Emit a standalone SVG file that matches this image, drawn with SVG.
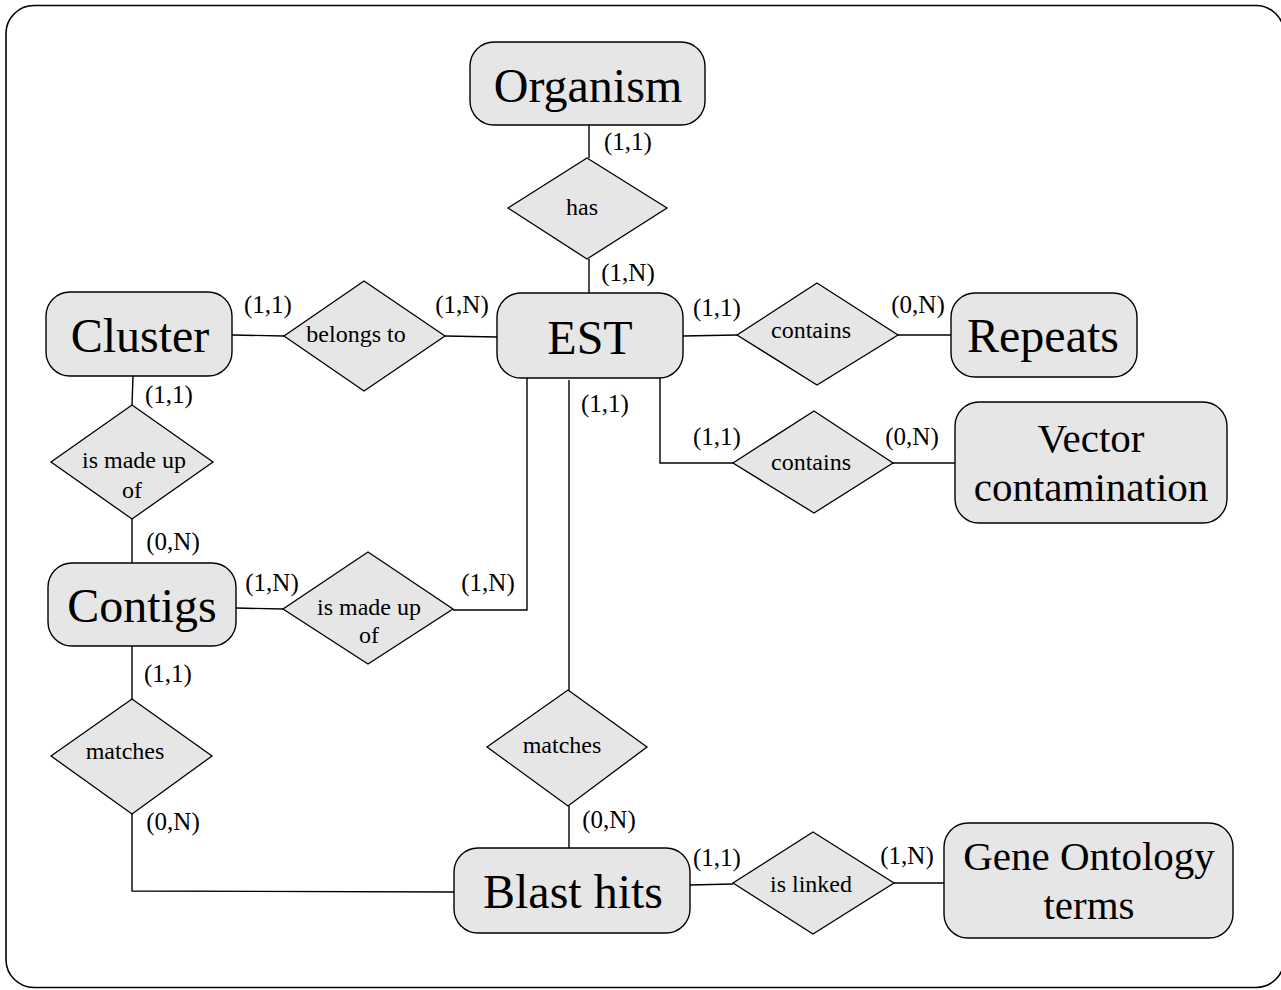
<svg xmlns="http://www.w3.org/2000/svg" width="1281" height="990" viewBox="0 0 1281 990">
<style>
.ent{fill:#e6e6e6;stroke:#000;stroke-width:1.4}
.rel{fill:#e6e6e6;stroke:#000;stroke-width:1.3}
.con{fill:none;stroke:#000;stroke-width:1.4}
.et{font-family:"Liberation Serif","Times New Roman",serif;font-size:48px;text-anchor:middle;fill:#000}
.et2{font-family:"Liberation Serif","Times New Roman",serif;font-size:41px;text-anchor:middle;fill:#000}
.rt{font-family:"Liberation Serif","Times New Roman",serif;font-size:24px;text-anchor:middle;fill:#000}
.ct{font-family:"Liberation Serif","Times New Roman",serif;font-size:25px;text-anchor:middle;fill:#000}
</style>
<rect x="6" y="5.5" width="1278" height="982" rx="28" fill="#fff" stroke="#000" stroke-width="1.6"/>
<g id="connectors">
<line class="con" x1="589" y1="125" x2="589" y2="158"/>
<line class="con" x1="589" y1="259" x2="589" y2="293"/>
<line class="con" x1="232" y1="335" x2="284" y2="336"/>
<line class="con" x1="445" y1="336" x2="497" y2="337"/>
<line class="con" x1="683" y1="336" x2="737" y2="335"/>
<line class="con" x1="898" y1="335" x2="951" y2="335"/>
<polyline class="con" points="660,378 660,463 733,463"/>
<line class="con" x1="893" y1="463" x2="955" y2="463"/>
<line class="con" x1="133" y1="376" x2="132" y2="405"/>
<line class="con" x1="132" y1="519" x2="132" y2="563"/>
<line class="con" x1="236" y1="608" x2="283" y2="609"/>
<polyline class="con" points="453,610 527,610 527,378"/>
<line class="con" x1="569" y1="380" x2="569" y2="690"/>
<line class="con" x1="569" y1="806" x2="569" y2="848"/>
<line class="con" x1="132" y1="646" x2="132" y2="699"/>
<polyline class="con" points="132,814 132,891 454,892"/>
<line class="con" x1="690" y1="885" x2="733" y2="884"/>
<line class="con" x1="894" y1="883" x2="944" y2="883"/>
</g>
<g id="organism"><rect class="ent" x="470" y="42" width="235" height="83" rx="24"/><text class="et" x="588" y="102">Organism</text></g>
<g id="cluster"><rect class="ent" x="46" y="292" width="186" height="84" rx="24"/><text class="et" x="140" y="352">Cluster</text></g>
<g id="est"><rect class="ent" x="497" y="293" width="186" height="85" rx="24"/><text class="et" x="590" y="354">EST</text></g>
<g id="repeats"><rect class="ent" x="951" y="293" width="186" height="84" rx="24"/><text class="et" x="1043" y="352">Repeats</text></g>
<g id="vector"><rect class="ent" x="955" y="402" width="272" height="121" rx="24"/><text class="et2" x="1091" y="452">Vector</text><text class="et2" x="1091" y="501">contamination</text></g>
<g id="contigs"><rect class="ent" x="48" y="563" width="188" height="83" rx="24"/><text class="et" x="142" y="622">Contigs</text></g>
<g id="blasthits"><rect class="ent" x="454" y="848" width="236" height="85" rx="24"/><text class="et" x="573" y="908">Blast hits</text></g>
<g id="geneontology"><rect class="ent" x="944" y="823" width="289" height="115" rx="24"/><text class="et2" x="1089" y="870">Gene Ontology</text><text class="et2" x="1089" y="919">terms</text></g>
<g id="has"><polygon class="rel" points="587,158 667,208 587,259 508,208"/><text class="rt" x="582" y="215">has</text></g>
<g id="belongsto"><polygon class="rel" points="364,281 445,336 364,391 284,336"/><text class="rt" x="356" y="342">belongs to</text></g>
<g id="contains1"><polygon class="rel" points="817,283 898,335 817,385 737,335"/><text class="rt" x="811" y="338">contains</text></g>
<g id="contains2"><polygon class="rel" points="814,411 893,463 814,513 733,463"/><text class="rt" x="811" y="470">contains</text></g>
<g id="madeup1"><polygon class="rel" points="132,405 213,462 132,519 51,462"/><text class="rt" x="134" y="468">is made up</text><text class="rt" x="132" y="498">of</text></g>
<g id="madeup2"><polygon class="rel" points="368,552 453,609 368,664 283,609"/><text class="rt" x="369" y="615">is made up</text><text class="rt" x="369" y="643">of</text></g>
<g id="matches1"><polygon class="rel" points="132,699 212,756 132,814 51,756"/><text class="rt" x="125" y="759">matches</text></g>
<g id="matches2"><polygon class="rel" points="568,690 647,747 568,806 487,747"/><text class="rt" x="562" y="753">matches</text></g>
<g id="islinked"><polygon class="rel" points="813,832 894,883 813,934 733,883"/><text class="rt" x="811" y="892">is linked</text></g>
<g id="cardinalities">
<text class="ct" x="628" y="150">(1,1)</text>
<text class="ct" x="628" y="281">(1,N)</text>
<text class="ct" x="268" y="313">(1,1)</text>
<text class="ct" x="462" y="313">(1,N)</text>
<text class="ct" x="717" y="316">(1,1)</text>
<text class="ct" x="918" y="313">(0,N)</text>
<text class="ct" x="717" y="445">(1,1)</text>
<text class="ct" x="912" y="445">(0,N)</text>
<text class="ct" x="605" y="412">(1,1)</text>
<text class="ct" x="169" y="403">(1,1)</text>
<text class="ct" x="173" y="550">(0,N)</text>
<text class="ct" x="272" y="591">(1,N)</text>
<text class="ct" x="488" y="591">(1,N)</text>
<text class="ct" x="168" y="682">(1,1)</text>
<text class="ct" x="173" y="830">(0,N)</text>
<text class="ct" x="609" y="828">(0,N)</text>
<text class="ct" x="717" y="866">(1,1)</text>
<text class="ct" x="907" y="864">(1,N)</text>
</g>
</svg>
